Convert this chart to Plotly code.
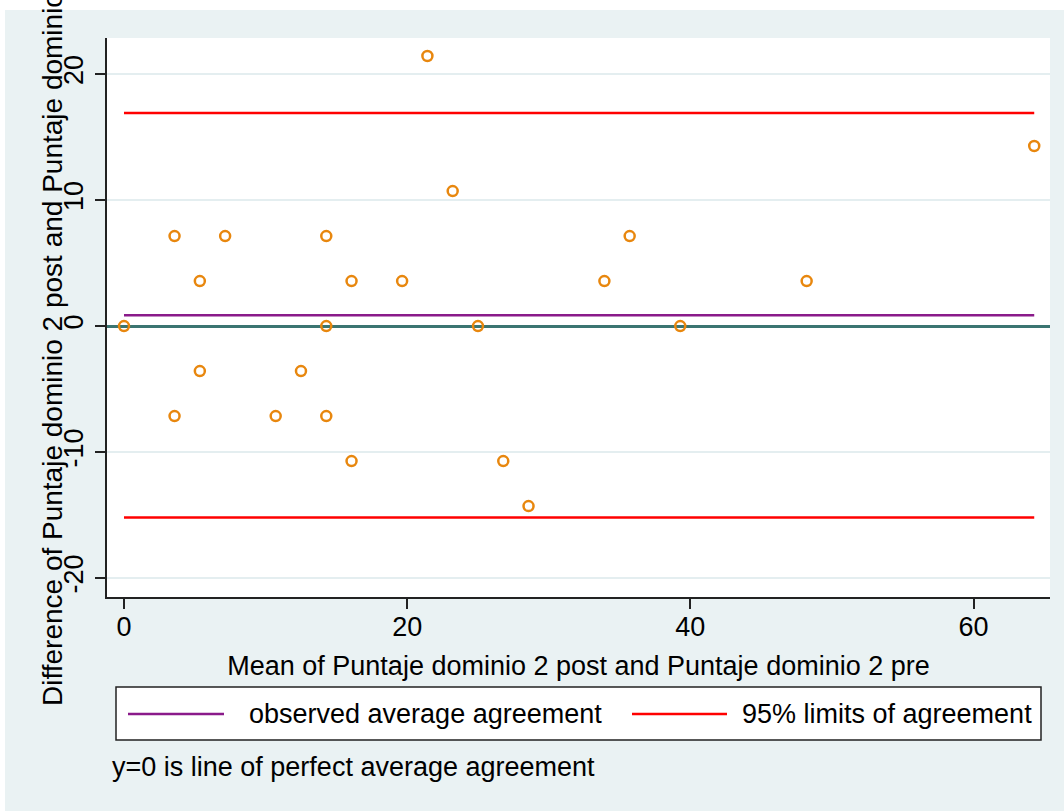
import plotly.graph_objects as go

# ---- data ----
mean_vals = [0, 3.571, 3.571, 5.357, 5.357, 7.143, 10.714, 12.5, 14.286, 14.286,
             14.286, 16.071, 16.071, 19.643, 21.429, 23.214, 25.0, 26.786, 28.571,
             33.929, 35.714, 39.286, 48.214, 64.286]
diff_vals = [0, 7.143, -7.143, 3.571, -3.571, 7.143, -7.143, -3.571, 7.143, 0,
             -7.143, 3.571, -10.714, 3.571, 21.429, 10.714, 0, -10.714, -14.286,
             3.571, 7.143, 0, 3.571, 14.286]
mean_diff = 0.85
upper_loa = 16.9
lower_loa = -15.2
x_ticks = [0, 20, 40, 60]
y_ticks = [-20, -10, 0, 10, 20]
y_tick_labels = ["-20", "-10", "0", "10", "20"]

x_title = "Mean of Puntaje dominio 2 post and Puntaje dominio 2 pre"
y_title = "Difference of Puntaje dominio 2 post and Puntaje dominio 2 pre"
legend_labels = ["observed average agreement", "95% limits of agreement"]
note = "y=0 is line of perfect average agreement"

# ---- layout geometry ----
W, H = 1064, 811
L, R, T, B = 107, 1050, 38, 597
BG = "#eaf2f3"
FONT = "Liberation Sans"
FS = 27
PURPLE = "#8a1a8a"
RED = "#ff0000"
ORANGE = "#e8870e"
TEAL = "#3b7571"


def px(x):
    return (x - L) / (R - L)


def py(y):
    return (B - y) / (B - T)


fig = go.Figure()

xmin, xmax = min(mean_vals), max(mean_vals)
fig.add_trace(go.Scatter(x=[xmin, xmax], y=[mean_diff, mean_diff], mode="lines",
                         line=dict(color=PURPLE, width=2.5), showlegend=False,
                         hoverinfo="skip"))
fig.add_trace(go.Scatter(x=[xmin, xmax], y=[upper_loa, upper_loa], mode="lines",
                         line=dict(color=RED, width=2.5), showlegend=False,
                         hoverinfo="skip"))
fig.add_trace(go.Scatter(x=[xmin, xmax], y=[lower_loa, lower_loa], mode="lines",
                         line=dict(color=RED, width=2.5), showlegend=False,
                         hoverinfo="skip"))
fig.add_trace(go.Scatter(x=mean_vals, y=diff_vals, mode="markers",
                         marker=dict(symbol="circle-open", size=10, color=ORANGE,
                                     line=dict(width=2.5, color=ORANGE)),
                         showlegend=False))

shapes = [
    # white outer border strips
    dict(type="rect", xref="paper", yref="paper", x0=px(0), x1=px(W), y0=py(10), y1=py(0),
         fillcolor="white", line=dict(width=0), layer="below"),
    dict(type="rect", xref="paper", yref="paper", x0=px(0), x1=px(5), y0=py(H), y1=py(0),
         fillcolor="white", line=dict(width=0), layer="below"),
    # legend box
    dict(type="rect", xref="paper", yref="paper", x0=px(116), x1=px(1041), y0=py(740), y1=py(687),
         fillcolor="white", line=dict(color="#222222", width=1.5)),
    dict(type="line", xref="paper", yref="paper", x0=px(128), x1=px(224), y0=py(714), y1=py(714),
         line=dict(color=PURPLE, width=2.5)),
    dict(type="line", xref="paper", yref="paper", x0=px(632), x1=px(727), y0=py(714), y1=py(714),
         line=dict(color=RED, width=2.5)),
]

annotations = [
    dict(text=y_title, xref="paper", yref="paper", x=px(52), y=py(708),
         xanchor="center", yanchor="bottom", textangle=-90, showarrow=False,
         font=dict(family=FONT, size=28, color="black")),
    dict(text=legend_labels[0], xref="paper", yref="paper", x=px(247), y=py(714),
         xanchor="left", yanchor="middle", showarrow=False,
         font=dict(family=FONT, size=FS, color="black")),
    dict(text=legend_labels[1], xref="paper", yref="paper", x=px(740), y=py(714),
         xanchor="left", yanchor="middle", showarrow=False,
         font=dict(family=FONT, size=FS, color="black")),
    dict(text=note, xref="paper", yref="paper", x=px(110), y=py(767),
         xanchor="left", yanchor="middle", showarrow=False,
         font=dict(family=FONT, size=FS, color="black")),
]

fig.update_layout(
    width=W, height=H,
    margin=dict(l=L, r=W - R, t=T, b=H - B, pad=0),
    paper_bgcolor=BG, plot_bgcolor="white",
    font=dict(family=FONT, size=FS, color="black"),
    showlegend=False,
    shapes=shapes, annotations=annotations,
    xaxis=dict(range=[-1.2, 65.4], tickvals=x_ticks, ticks="outside", ticklen=10,
               tickwidth=1.5, tickcolor="#222222", showgrid=False, zeroline=False,
               showline=True, linecolor="#222222", linewidth=1.5,
               tickfont=dict(size=FS), ticklabelstandoff=-5,
               title=dict(text=x_title, font=dict(size=FS), standoff=15)),
    yaxis=dict(range=[-21.5, 22.86], tickvals=y_ticks, ticktext=y_tick_labels,
               ticks="outside", ticklen=10,
               tickwidth=1.5, tickcolor="#222222", tickangle=-90,
               showgrid=True, gridcolor="#e4eef0", gridwidth=1.5,
               zeroline=True, zerolinecolor=TEAL, zerolinewidth=2.5,
               showline=True, linecolor="#222222", linewidth=1.5,
               tickfont=dict(size=FS), ticklabelstandoff=1, automargin=False),
)

fig.write_html("out.html", config={"displayModeBar": False},
               post_script="document.body.style.margin='0px';")
